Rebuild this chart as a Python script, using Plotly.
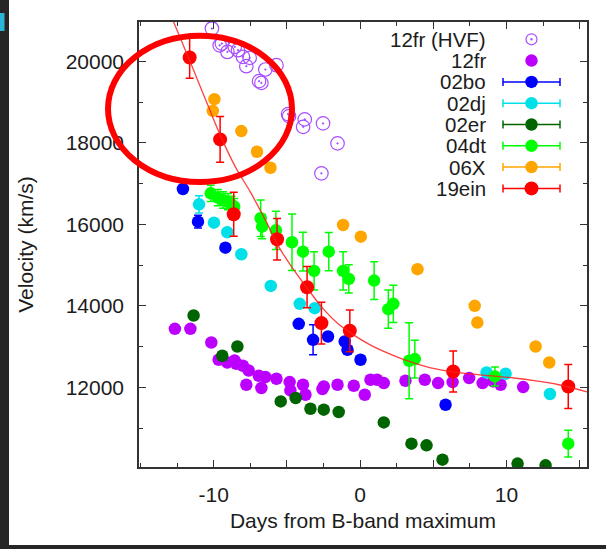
import plotly.graph_objects as go

# ---------------- data ----------------
hvf_day = [-10.12, -9.59, -9.44, -9.06, -8.56, -8.34, -8.0, -7.54, -7.77, -6.47,
           -5.71, -6.9, -6.74, -4.92, -4.85, -3.78, -3.89, -2.53, -1.54, -2.64]
hvf_vel = [20810, 20398, 20442, 20236, 20359, 20278, 20114, 20090, 19886, 19805,
           19910, 19518, 19476, 18709, 18660, 18579, 18397, 18481, 17990, 17255]

fr_day = [-12.65, -11.59, -10.16, -9.66, -9.07, -8.57, -8.45, -8.0, -7.61, -6.92,
          -6.47, -5.71, -7.77, -6.74, -4.81, -4.76, -3.9, -3.73, -2.57, -2.48,
          -1.54, -0.43, 0.32, 0.71, 1.16, 1.62, 3.1, 4.42, 5.33, 6.32,
          7.45, 8.37, 9.09, 9.6, 11.14]
fr_vel = [13437, 13437, 13101, 12677, 12611, 12660, 12579, 12530, 12414, 12284,
          12253, 12211, 12064, 11983, 12130, 11924, 12064, 11819, 11958, 12022,
          12064, 12039, 11819, 12186, 12186, 12105, 12162, 12186, 12105, 12130,
          12228, 12105, 12145, 12064, 12007]

bo_day = [-12.1, -11.07, -9.2, -4.19, -3.21, -2.19, -1.05, -0.86, 0.03, 5.84]
bo_vel = [16870, 16068, 15430, 13559, 13167, 13248, 13125, 12922, 12677, 11573]
bo_err = [0, 155, 0, 0, 368, 0, 0, 0, 0, 0]

dj_day = [-11.0, -9.98, -9.07, -8.11, -6.1, -4.12, -3.1, 8.64, 9.94, 12.97]
dj_vel = [16494, 16044, 15808, 15268, 14491, 14050, 13944, 12365, 12333, 11836]
dj_err = [210, 0, 0, 0, 0, 0, 0, 0, 0, 0]

er_day = [-11.37, -9.41, -8.38, -5.42, -4.4, -3.39, -2.48, -1.46, 1.62, 3.51,
          4.54, 5.63, 10.76, 12.67]
er_vel = [13763, 12775, 13003, 11654, 11738, 11475, 11451, 11394, 11139, 10617,
          10576, 10225, 10127, 10085]
er_err = [0] * 14

dt_day = [-10.2, -9.71, -9.36, -9.02, -8.79, -8.6, -6.79, -6.69, -5.75, -4.65,
          -3.9, -3.14, -2.14, -1.16, -0.77, 0.96, 1.93, 2.27, 3.35, 3.74,
          9.21, 14.22]
dt_vel = [16764, 16657, 16600, 16558, 16494, 16440, 16151, 15946, 15855, 15563,
          15332, 14859, 15332, 14859, 14663, 14621, 13920, 14050, 12652, 12694,
          12268, 10617]
dt_err = [200, 200, 200, 200, 200, 200, 450, 300, 470, 695,
          478, 470, 470, 470, 347, 462, 470, 458, 932, 462,
          233, 327]

x06_day = [-9.95, -10.06, -8.11, -7.04, -6.12, -1.16, 0.05, 3.92, 7.83, 8.01, 11.99, 12.92]
x06_vel = [19077, 18790, 18292, 17784, 17392, 15987, 15700, 14901, 14001, 13591, 13003, 12611]
x06_err = [0] * 12

ein_day = [-11.64, -9.56, -8.63, -5.67, -3.62, -2.64, -0.7, 6.36, 14.22]
ein_vel = [20099, 18088, 16249, 15636, 14459, 13577, 13388, 12390, 12022]
ein_err = [511, 560, 540, 511, 507, 511, 511, 503, 540]

fit_day = [-12.75, -11.5, -10.5, -9.5, -8.5, -7.5, -6.5, -5.5, -4.5, -3.5, -2.5, -1.5,
           -0.5, 0.5, 1.5, 3.0, 4.5, 6.0, 7.5, 9.0, 10.5, 12.0, 13.5, 15.5]
fit_vel = [20985, 19900, 19020, 18150, 17400, 16800, 16130, 15420, 14870, 14380, 13920, 13560,
           13300, 13080, 12900, 12680, 12510, 12400, 12330, 12280, 12230, 12160, 12070, 11890]

names = ["12fr (HVF)", "12fr", "02bo", "02dj", "02er", "04dt", "06X", "19ein"]
colors = ["#a64dff", "#bb00ff", "#0000ff", "#00e0e8", "#006400", "#00ff00", "#ffa500", "#ff0000"]
msizes = [13.5, 12.5, 12.5, 12.5, 12.5, 12.5, 12.5, 14]

x_tickvals = [-10, -5, 0, 5, 10, 15]
x_ticktext = ["-10", "", "0", "", "10", ""]

# ---------------- layout helpers ----------------
W, H = 606, 549
ML, MR, MT, MB = 139, 19, 22, 82
PW, PH = W - ML - MR, H - MT - MB


def pxx(x):
    return (x - ML) / PW


def pyy(y):
    return (H - MB - y) / PH


FONT = "Liberation Sans, Arial, Helvetica, sans-serif"
TXT = "#1c1c1c"
AX = "#333333"

fig = go.Figure()

# HVF open circles
fig.add_trace(go.Scatter(x=hvf_day, y=hvf_vel, mode="markers", name=names[0],
                         marker=dict(symbol="circle-open-dot", size=msizes[0], color=colors[0],
                                     line=dict(width=1.2, color=colors[0])),
                         showlegend=False, hoverinfo="skip"))
fig.add_trace(go.Scatter(x=fr_day, y=fr_vel, mode="markers", name=names[1],
                         marker=dict(symbol="circle", size=msizes[1], color=colors[1], line=dict(width=0)),
                         showlegend=False, hoverinfo="skip"))

series = [
    (names[2], bo_day, bo_vel, bo_err, colors[2], msizes[2]),
    (names[3], dj_day, dj_vel, dj_err, colors[3], msizes[3]),
    (names[4], er_day, er_vel, er_err, colors[4], msizes[4]),
    (names[5], dt_day, dt_vel, dt_err, colors[5], msizes[5]),
    (names[6], x06_day, x06_vel, x06_err, colors[6], msizes[6]),
    (names[7], ein_day, ein_vel, ein_err, colors[7], msizes[7]),
]
for nm, d, v, e, c, s in series:
    fig.add_trace(go.Scatter(x=d, y=v, mode="markers", name=nm,
                             marker=dict(symbol="circle", size=s, color=c, line=dict(width=0)),
                             error_y=dict(type="data", array=e, visible=True, color=c,
                                          thickness=1.5, width=4),
                             showlegend=False, hoverinfo="skip"))

fig.add_trace(go.Scatter(x=fit_day, y=fit_vel, mode="lines",
                         line=dict(color="rgba(255,30,30,0.85)", width=1.3, shape="spline"),
                         showlegend=False, hoverinfo="skip"))

shapes = []
annotations = []

# custom gnuplot-style legend
L_Y0, L_DY = 39.3, 21.3
L_TEXT_X, L_MARK_X, L_BAR_X0, L_BAR_X1 = 488, 531.5, 503, 560
for i, (nm, c) in enumerate(zip(names, colors)):
    yp = pyy(L_Y0 + i * L_DY)
    r = msizes[i] / 2
    annotations.append(dict(x=pxx(L_TEXT_X), y=yp, xref="paper", yref="paper",
                            xanchor="right", yanchor="middle", showarrow=False,
                            text=nm, font=dict(size=20.5, color=TXT, family=FONT)))
    if i >= 2:
        shapes.append(dict(type="line", xref="paper", yref="paper",
                           x0=pxx(L_BAR_X0), x1=pxx(L_BAR_X1), y0=yp, y1=yp,
                           line=dict(color=c, width=1.5)))
        for xb in (L_BAR_X0, L_BAR_X1):
            shapes.append(dict(type="line", xref="paper", yref="paper",
                               xsizemode="scaled", ysizemode="pixel", yanchor=yp,
                               x0=pxx(xb), x1=pxx(xb), y0=-4, y1=4,
                               line=dict(color=c, width=1.5)))
    if i == 0:
        shapes.append(dict(type="circle", xref="paper", yref="paper",
                           xsizemode="pixel", ysizemode="pixel",
                           xanchor=pxx(L_MARK_X), yanchor=yp, x0=-5.5, x1=5.5, y0=-5.5, y1=5.5,
                           line=dict(color=c, width=1.2), fillcolor="rgba(0,0,0,0)"))
        shapes.append(dict(type="circle", xref="paper", yref="paper",
                           xsizemode="pixel", ysizemode="pixel",
                           xanchor=pxx(L_MARK_X), yanchor=yp, x0=-1, x1=1, y0=-1, y1=1,
                           line=dict(color=c, width=0.5), fillcolor=c))
    else:
        shapes.append(dict(type="circle", xref="paper", yref="paper",
                           xsizemode="pixel", ysizemode="pixel",
                           xanchor=pxx(L_MARK_X), yanchor=yp, x0=-r, x1=r, y0=-r, y1=r,
                           line=dict(width=0), fillcolor=c))

# red highlight ellipse
shapes.append(dict(type="circle", xref="paper", yref="paper",
                   x0=pxx(108), x1=pxx(292), y0=pyy(182), y1=pyy(35.7),
                   line=dict(color="#ff0000", width=6), fillcolor="rgba(0,0,0,0)"))

# dark window borders of the screenshot
shapes.append(dict(type="rect", xref="paper", yref="paper", layer="above",
                   x0=pxx(-2), x1=pxx(9), y0=pyy(560), y1=pyy(-10),
                   line=dict(width=0), fillcolor="#262626"))
shapes.append(dict(type="rect", xref="paper", yref="paper", layer="above",
                   x0=pxx(-2), x1=pxx(610), y0=pyy(560), y1=pyy(545),
                   line=dict(width=0), fillcolor="#262626"))
shapes.append(dict(type="rect", xref="paper", yref="paper", layer="above",
                   x0=pxx(-2), x1=pxx(4.5), y0=pyy(31), y1=pyy(13),
                   line=dict(width=0), fillcolor="#29b6d8"))

fig.update_layout(
    width=W, height=H, autosize=False,
    margin=dict(l=ML, r=MR, t=MT, b=MB, pad=0),
    paper_bgcolor="white", plot_bgcolor="white",
    font=dict(family=FONT, size=21, color=TXT),
    showlegend=False,
    shapes=shapes, annotations=annotations,
    xaxis=dict(range=[-15.1, 15.5], tickmode="array", tickvals=x_tickvals, ticktext=x_ticktext,
               ticks="inside", ticklen=7, tickwidth=1.3, tickcolor=AX,
               showline=True, linecolor=AX, linewidth=1.5, mirror="allticks",
               showgrid=False, zeroline=False, ticklabelstandoff=8,
               minor=dict(tickmode="linear", tick0=0, dtick=2.5, ticks="inside",
                          ticklen=4, tickwidth=1.2, tickcolor=AX, showgrid=False),
               tickfont=dict(size=21, color=TXT, family=FONT),
               title=dict(text="Days from B-band maximum", standoff=8,
                          font=dict(size=21, color=TXT, family=FONT))),
    yaxis=dict(range=[10044, 20971], tickmode="linear", tick0=0, dtick=2000, tickformat="d",
               ticks="inside", ticklen=7, tickwidth=1.3, tickcolor=AX,
               showline=True, linecolor=AX, linewidth=1.5, mirror="allticks",
               showgrid=False, zeroline=False, ticklabelstandoff=9,
               minor=dict(tickmode="linear", tick0=0, dtick=1000, ticks="inside",
                          ticklen=4, tickwidth=1.2, tickcolor=AX, showgrid=False),
               tickfont=dict(size=21, color=TXT, family=FONT),
               title=dict(text="Velocity (km/s)", standoff=26,
                          font=dict(size=21, color=TXT, family=FONT))),
)

fig.write_html("out.html")
